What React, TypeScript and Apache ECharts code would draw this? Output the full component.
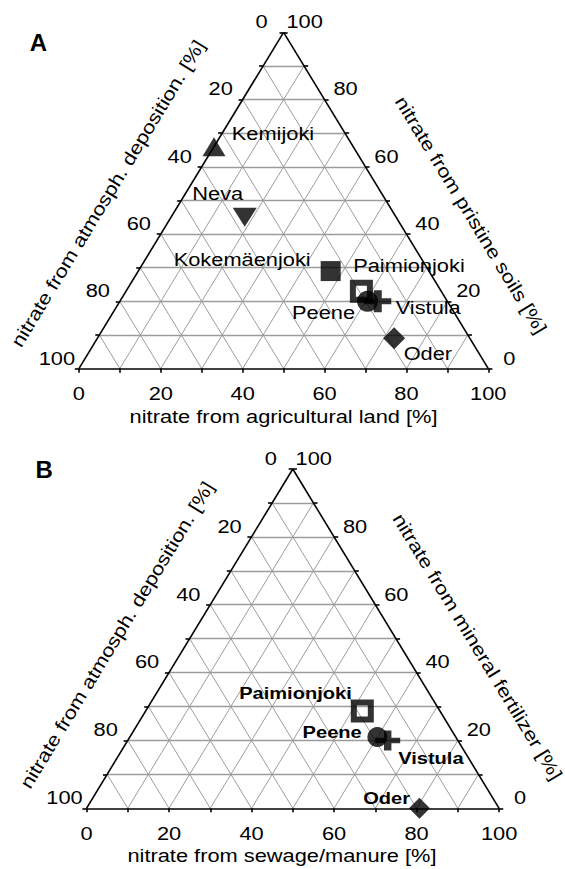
import React, { useEffect, useRef } from "react";
import * as echarts from "echarts";

const FONT = '"Liberation Sans", Arial, Helvetica, sans-serif';
const TEXT_SIZE = 18.5;
const TEXT_SX = 1.18; // the source font is set noticeably wider than Arial

// ---- axis ticks ----
const GRID_STEPS = [10, 20, 30, 40, 50, 60, 70, 80, 90];
const TICK_VALUES = [0, 10, 20, 30, 40, 50, 60, 70, 80, 90, 100];
const TICK_LABELS = [0, 20, 40, 60, 80, 100];

// ---- Panel A : agricultural land / pristine soils / atmospheric deposition (%) ----
const RIVERS_A = ["Kemijoki", "Neva", "Kokemäenjoki", "Paimionjoki", "Peene", "Vistula", "Oder"];
const AGRI_A = [0, 18, 47, 57.5, 60.5, 63, 72.5];
const PRISTINE_A = [66, 45, 29, 23, 20, 20, 9];
const ATMOS_A = [34, 37, 24, 19.5, 19.5, 17, 18.5];

// ---- Panel B : sewage/manure / mineral fertilizer / atmospheric deposition (%) ----
const RIVERS_B = ["Paimionjoki", "Peene", "Vistula", "Oder"];
const SEWAGE_B = [52.5, 60, 63, 80.7];
const MINERAL_B = [28.7, 21, 20, 0];
const ATMOS_B = [18.8, 19, 17, 19.3];

const TITLE_LEFT = "nitrate from atmosph. deposition. [%]";
const TITLE_A_BOTTOM = "nitrate from agricultural land [%]";
const TITLE_A_RIGHT = "nitrate from pristine soils [%]";
const TITLE_B_BOTTOM = "nitrate from sewage/manure [%]";
const TITLE_B_RIGHT = "nitrate from mineral fertilizer [%]";

// ---- styles ----
const PLUS = "path://M9.5,0H17.5V8H27V14H17.5V22H9.5V14H0V8H9.5Z";
const MARKERS_A: Record<string, any> = {
  Kemijoki: { symbol: "triangle", size: [23, 19], rotate: 0 },
  Neva: { symbol: "triangle", size: [24, 19], rotate: 180 },
  "Kokemäenjoki": { symbol: "rect", size: [20, 20], rotate: 0 },
  Paimionjoki: { symbol: "rect", size: [17, 17], rotate: 0, open: true },
  Peene: { symbol: "circle", size: [21, 21], rotate: 0 },
  Vistula: { symbol: PLUS, size: [27, 22], rotate: 0 },
  Oder: { symbol: "diamond", size: [22, 22], rotate: 0 },
};
const MARKERS_B: Record<string, any> = {
  Paimionjoki: { symbol: "rect", size: [17, 17], rotate: 0, open: true },
  Peene: { symbol: "circle", size: [20, 20], rotate: 0 },
  Vistula: { symbol: PLUS, size: [25, 20], rotate: 0 },
  Oder: { symbol: "diamond", size: [21, 21], rotate: 0 },
};
// [align, dx, dy] relative to marker centre (pixels)
const LABELS_A: Record<string, [string, number, number]> = {
  Kemijoki: ["left", 17.7, -13.2],
  Neva: ["center", -27, -23.4],
  "Kokemäenjoki": ["right", -20, -11.2],
  Paimionjoki: ["left", -8.2, -25.4],
  Peene: ["right", -12.5, 11.6],
  Vistula: ["left", 17.9, 6.3],
  Oder: ["left", 9.5, 15.6],
};
const LABELS_B: Record<string, [string, number, number]> = {
  Paimionjoki: ["right", -10.6, -17.9],
  Peene: ["right", -15.7, -4.5],
  Vistula: ["left", 10.5, 17.9],
  Oder: ["right", -9.5, -9.8],
};

const GRIDS = [
  { left: 78.9, top: 32.3, width: 409.4, height: 336.3 },
  { left: 86.5, top: 469, width: 412.6, height: 339.3 },
];

// ternary (bottom-axis value, top value, left-vertex value) -> cartesian data coords
function tern(b: number, t: number, l: number): [number, number] {
  const s = b + t + l;
  const bb = (b / s) * 100;
  const tt = (t / s) * 100;
  return [bb + tt / 2, tt];
}

function panelSeries(
  gi: number,
  names: string[],
  bottomV: number[],
  topV: number[],
  leftV: number[],
  markers: Record<string, any>
) {
  const axis = { xAxisIndex: gi, yAxisIndex: gi, coordinateSystem: "cartesian2d" };
  const TLX = 1.0;
  const TLY = 1.2;

  const diag: any[] = [];
  GRID_STEPS.forEach((v) => {
    diag.push({ coords: [[v, 0], [v + (100 - v) / 2, 100 - v]] });
    diag.push({ coords: [[100 - v, 0], [(100 - v) / 2, 100 - v]] });
  });
  const horiz = GRID_STEPS.map((t) => ({ coords: [[t / 2, t], [100 - t / 2, t]] }));
  const frame: any[] = [
    { coords: [[0, 0], [100, 0]] },
    { coords: [[0, 0], [50, 100]] },
    { coords: [[100, 0], [50, 100]] },
  ];
  TICK_VALUES.forEach((v) => {
    frame.push({ coords: [[v / 2, v], [v / 2 - TLX, v]] });
    frame.push({ coords: [[100 - v / 2, v], [100 - v / 2 + TLX, v]] });
    frame.push({ coords: [[v, 0], [v, -TLY]] });
  });

  const pointData = names.map((n, i) => {
    const m = markers[n];
    return {
      name: n,
      value: tern(bottomV[i], topV[i], leftV[i]),
      symbol: m.symbol,
      symbolSize: m.size,
      symbolRotate: m.rotate,
      symbolKeepAspect: false,
      itemStyle: m.open
        ? { color: "rgba(255,255,255,0)", borderColor: "#000", borderWidth: 6 }
        : { color: "#000", borderWidth: 0 },
    };
  });

  return [
    {
      type: "lines",
      ...axis,
      silent: true,
      clip: false,
      z: 1,
      lineStyle: { color: "#5a5a5a", width: 0.6, opacity: 1, curveness: 0 },
      data: diag,
    },
    {
      type: "lines",
      ...axis,
      silent: true,
      clip: false,
      z: 2,
      lineStyle: { color: "#9c9c9c", width: 1.4, opacity: 1, curveness: 0 },
      data: horiz,
    },
    {
      type: "lines",
      ...axis,
      silent: true,
      clip: false,
      z: 3,
      lineStyle: { color: "#000", width: 1.6, opacity: 1, curveness: 0 },
      data: frame,
    },
    {
      type: "scatter",
      ...axis,
      silent: true,
      clip: false,
      z: 5,
      data: pointData,
    },
  ];
}

function txt(
  text: string,
  x: number,
  y: number,
  o: { align?: string; size?: number; weight?: string; rot?: number; sx?: number } = {}
) {
  const align = o.align || "center";
  return {
    type: "text",
    x,
    y,
    rotation: ((o.rot || 0) * Math.PI) / 180,
    scaleX: o.sx === undefined ? TEXT_SX : o.sx,
    silent: true,
    z: 10,
    style: {
      text,
      fill: "#000",
      fontFamily: FONT,
      fontSize: o.size || TEXT_SIZE,
      fontWeight: o.weight || "normal",
      textAlign: align,
      textVerticalAlign: "middle",
      align,
      verticalAlign: "middle",
    },
  };
}

function panelTexts(
  chart: any,
  gi: number,
  names: string[],
  bottomV: number[],
  topV: number[],
  leftV: number[],
  labels: Record<string, [string, number, number]>,
  labelOpts: { size: number; weight: string },
  bottomDy: number
) {
  const px = (v: number[]) => chart.convertToPixel({ gridIndex: gi }, v) as number[];
  const out: any[] = [];
  TICK_LABELS.forEach((v) => {
    const t = 100 - v;
    const pl = px([t / 2, t]);
    out.push(txt(String(v), pl[0] - 22, pl[1] - 10.5));
    const pr = px([100 - v / 2, v]);
    out.push(txt(String(v), pr[0] + 21, pr[1] - 10.5));
    const pb = px([v, 0]);
    out.push(txt(String(v), pb[0], pb[1] + bottomDy));
  });
  names.forEach((n, i) => {
    const p = px(tern(bottomV[i], topV[i], leftV[i]));
    const lb = labels[n];
    out.push(txt(n, p[0] + lb[1], p[1] + lb[2], { align: lb[0], size: labelOpts.size, weight: labelOpts.weight }));
  });
  return out;
}

export default function App() {
  const ref = useRef<HTMLDivElement>(null);
  useEffect(() => {
    if (!ref.current) return;
    const chart = echarts.init(ref.current, null, { renderer: "svg" });
    const axisCommon = { type: "value", min: 0, max: 100, show: false, splitLine: { show: false } };
    chart.setOption({
      animation: false,
      backgroundColor: "#fff",
      grid: GRIDS.map((g) => ({ ...g, containLabel: false })),
      xAxis: GRIDS.map((_, i) => ({ ...axisCommon, gridIndex: i })),
      yAxis: GRIDS.map((_, i) => ({ ...axisCommon, gridIndex: i })),
      series: [
        ...panelSeries(0, RIVERS_A, AGRI_A, PRISTINE_A, ATMOS_A, MARKERS_A),
        ...panelSeries(1, RIVERS_B, SEWAGE_B, MINERAL_B, ATMOS_B, MARKERS_B),
      ],
    });
    chart.setOption({
      graphic: [
        txt("A", 38.3, 42.5, { size: 24, weight: "bold", sx: 1 }),
        txt("B", 44.2, 469, { size: 24, weight: "bold", sx: 1 }),
        txt(TITLE_A_BOTTOM, 283.6, 417),
        txt(TITLE_LEFT, 108, 193.4, { rot: 58.7 }),
        txt(TITLE_A_RIGHT, 471, 215, { rot: -58.7 }),
        txt(TITLE_B_BOTTOM, 282, 856),
        txt(TITLE_LEFT, 117, 635, { rot: 58.7 }),
        txt(TITLE_B_RIGHT, 477.5, 646.7, { rot: -58.7 }),
        ...panelTexts(chart, 0, RIVERS_A, AGRI_A, PRISTINE_A, ATMOS_A, LABELS_A, { size: TEXT_SIZE, weight: "normal" }, 24.6),
        ...panelTexts(chart, 1, RIVERS_B, SEWAGE_B, MINERAL_B, ATMOS_B, LABELS_B, { size: 17, weight: "bold" }, 25),
      ],
    });
    return () => chart.dispose();
  }, []);
  return (
    <div
      ref={ref}
      style={{ position: "fixed", left: 0, top: 0, width: 565, height: 869, background: "#fff" }}
    />
  );
}
